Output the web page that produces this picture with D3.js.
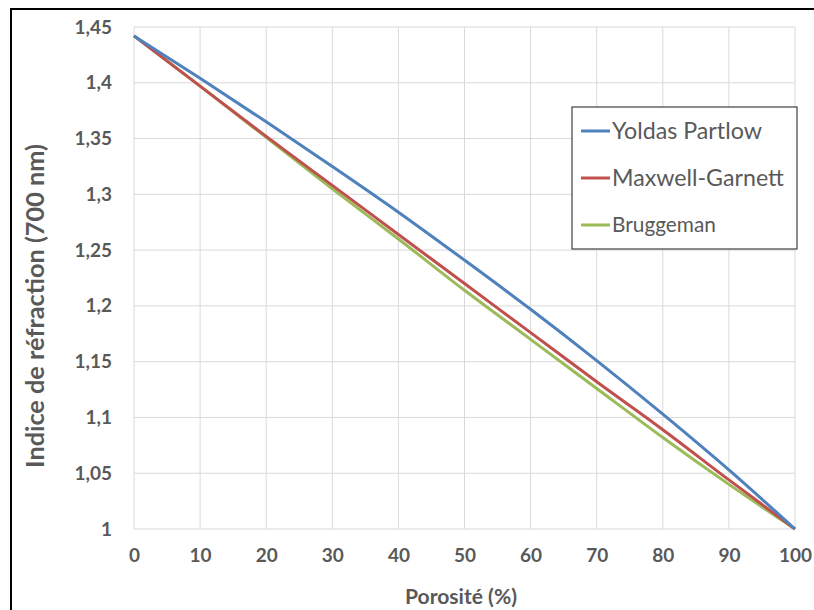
<!DOCTYPE html>
<html><head><meta charset="utf-8">
<script src="https://cdn.jsdelivr.net/npm/d3@7"></script>
<style>body{margin:0;background:#fff;} text{font-family:Lato,"Open Sans",sans-serif;}</style>
</head><body>
<svg id="c" width="814" height="610"></svg>
<script>
const porosity = [0,10,20,30,40,50,60,70,80,90,100];
const yoldas   = [1.442,1.404,1.365,1.325,1.284,1.241,1.197,1.151,1.103,1.053,1.000];
const maxwell  = [1.442,1.397,1.352,1.308,1.264,1.220,1.176,1.132,1.089,1.044,1.000];
const brugg    = [1.442,1.397,1.351,1.305,1.260,1.214,1.170,1.126,1.082,1.040,1.000];
const seriesNames = ["Yoldas Partlow","Maxwell-Garnett","Bruggeman"];
const seriesColors = ["#4F81BD","#C0504D","#9BBB59"];
const xTicks = [0,10,20,30,40,50,60,70,80,90,100];
const yTicks = [1,1.05,1.1,1.15,1.2,1.25,1.3,1.35,1.4,1.45];

const svg = d3.select("#c");
const L=134,R=795,T=27,B=529;
const x = d3.scaleLinear().domain([0,100]).range([L,R]);
const y = d3.scaleLinear().domain([1,1.45]).range([B,T]);
const fmt = d => String(+d.toFixed(2)).replace(".",",");
const fitSize = (sel, base, target) => {
  sel.attr("font-size", base);
  const w = sel.node().getComputedTextLength();
  sel.attr("font-size", base*target/w);
};

// outer frame
svg.append("rect").attr("x",11).attr("y",9).attr("width",830).attr("height",640)
  .attr("fill","none").attr("stroke","#000").attr("stroke-width",2);

// grid
svg.append("g").selectAll("line").data(yTicks).join("line")
  .attr("x1",L).attr("x2",R).attr("y1",d=>y(d)).attr("y2",d=>y(d))
  .attr("stroke","#d9d9d9").attr("stroke-width",1);
svg.append("g").selectAll("line").data(xTicks).join("line")
  .attr("y1",T).attr("y2",B).attr("x1",d=>x(d)).attr("x2",d=>x(d))
  .attr("stroke","#d9d9d9").attr("stroke-width",1);

// axes labels
const yAxis = d3.axisLeft(y).tickValues(yTicks).tickFormat(fmt).tickSize(0).tickPadding(22);
const gy = svg.append("g").attr("transform",`translate(${L},0)`).call(yAxis);
gy.select(".domain").remove();
gy.selectAll("text").attr("font-size",19).attr("font-weight","bold").attr("fill","#595959")
  .attr("font-family","Lato");
const xAxis = d3.axisBottom(x).tickValues(xTicks).tickFormat(d=>d).tickSize(0).tickPadding(20);
const gx = svg.append("g").attr("transform",`translate(0,${B})`).call(xAxis);
gx.select(".domain").remove();
gx.selectAll("text").attr("font-size",19).attr("font-weight","bold").attr("fill","#595959")
  .attr("font-family","Lato");

// titles
const xt = svg.append("text").attr("x",461).attr("y",604).attr("text-anchor","middle")
  .attr("font-weight","bold").attr("fill","#595959").text("Porosité (%)");
fitSize(xt,18,112);
const yt = svg.append("text").attr("transform",`translate(44,306) rotate(-90)`).attr("text-anchor","middle")
  .attr("font-weight","bold").attr("fill","#595959").text("Indice de réfraction (700 nm)");
fitSize(yt,20,324);

// lines
const series = [yoldas,maxwell,brugg];
const line = d3.line().x((d,i)=>x(porosity[i])).y(d=>y(d)).curve(d3.curveMonotoneX);
[2,1,0].forEach(k=>{
  svg.append("path").datum(series[k]).attr("d",line).attr("fill","none")
    .attr("stroke",seriesColors[k]).attr("stroke-width",3);
});

// legend
const lg = svg.append("g");
lg.append("rect").attr("x",572).attr("y",107).attr("width",225).attr("height",142)
  .attr("fill","#fff").attr("stroke","#404040").attr("stroke-width",1.2);
const ly = [131,178,225];
seriesNames.forEach((n,i)=>{
  lg.append("line").attr("x1",581).attr("x2",610).attr("y1",ly[i]).attr("y2",ly[i])
    .attr("stroke",seriesColors[i]).attr("stroke-width",3);
  const t = lg.append("text").attr("x",612).attr("y",ly[i]).attr("dy","0.36em")
    .attr("fill","#595959").text(n);
  fitSize(t,20,[150,172,104][i]);
});
</script>
</body></html>
